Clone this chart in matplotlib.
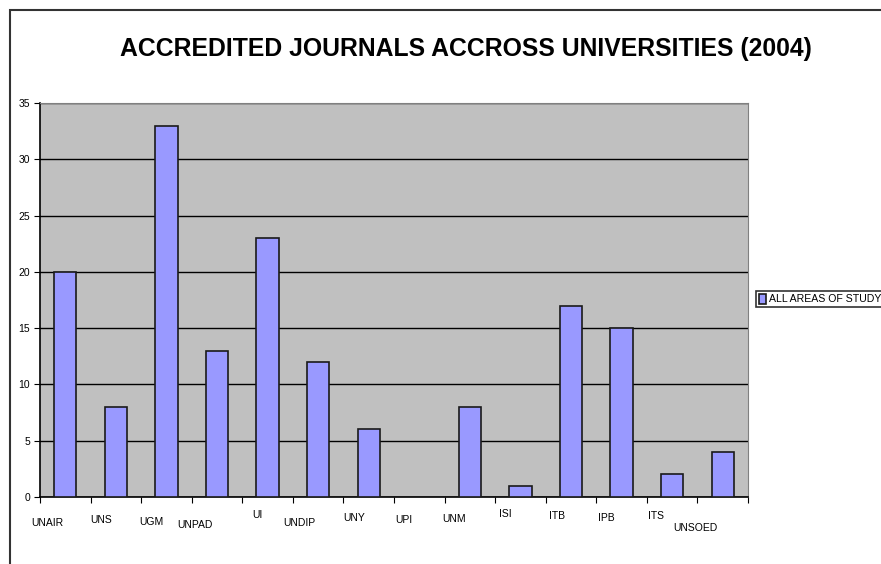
import matplotlib.pyplot as plt
from matplotlib import font_manager
from matplotlib.patches import Rectangle

universities = ['UNAIR', 'UNS', 'UGM', 'UNPAD', 'UI', 'UNDIP', 'UNY',
                'UPI', 'UNM', 'ISI', 'ITB', 'IPB', 'ITS', 'UNSOED']
journals = [20, 8, 33, 13, 23, 12, 6, 0, 8, 1, 17, 15, 2, 4]
series_name = 'ALL AREAS OF STUDY'
title = 'ACCREDITED JOURNALS ACCROSS UNIVERSITIES (2004)'

# excel-style staggered label placement (x shift in categories, y drop in px)
label_dx = [-0.36, -0.3, -0.29, -0.44, -0.2, -0.37, -0.29,
            -0.3, -0.31, -0.29, -0.28, -0.3, -0.31, -0.54]
label_dy = [26, 23, 25, 28, 18, 26, 21, 23, 22, 17, 19, 21, 19, 31]

names = {f.name for f in font_manager.fontManager.ttflist}
fam = 'Liberation Sans Narrow' if 'Liberation Sans Narrow' in names else 'Liberation Sans'
plt.rcParams['font.family'] = [fam, 'DejaVu Sans']

W, H = 881, 564
fig = plt.figure(figsize=(W / 100, H / 100), dpi=100)
fig.patch.set_facecolor('white')

# outer chart frame
fig.patches.append(Rectangle((10 / W, -0.1), 1.2, (H - 10) / H + 0.1,
                             transform=fig.transFigure, fill=False,
                             edgecolor='#333333', linewidth=1.5))

ax = fig.add_axes([40 / W, (H - 497) / H, (748 - 40) / W, (497 - 103) / H])
ax.set_facecolor('#c0c0c0')
x = list(range(len(universities)))
ax.bar(x, journals, width=0.44, color='#9999ff', edgecolor='#1a1a1a',
       linewidth=1.2, zorder=3, label=series_name)
ax.set_xlim(-0.5, len(universities) - 0.5)
ax.set_ylim(0, 35)
ax.set_yticks(range(0, 36, 5))
ax.yaxis.grid(True, color='black', linewidth=1)
ax.set_axisbelow(True)
ax.tick_params(axis='y', direction='out', length=4, labelsize=7.5, pad=3)
ax.set_xticks([i - 0.5 for i in range(len(universities) + 1)])
ax.set_xticklabels([])
ax.tick_params(axis='x', direction='out', length=4)
for s in ['top', 'right']:
    ax.spines[s].set_color('#808080')
for s in ['left', 'bottom']:
    ax.spines[s].set_color('black')
    ax.spines[s].set_linewidth(1.2)

for i, name in enumerate(universities):
    ax.annotate(name, xy=(i + label_dx[i], 0), xycoords='data',
                xytext=(0, -label_dy[i] * 0.72), textcoords='offset points',
                ha='center', va='center', fontsize=7.5, color='black')

fig.text(466 / W, 1 - 49 / H, title, ha='center', va='center',
         fontsize=17.8, fontweight='bold', color='black')

leg = fig.legend(loc='center left', bbox_to_anchor=(756 / W, 1 - 299 / H),
                 frameon=True, fancybox=False, fontsize=7.6,
                 handlelength=0.6, handleheight=1.1, handletextpad=0.3,
                 borderpad=0.3, edgecolor='black', borderaxespad=0)
leg.get_frame().set_linewidth(1.2)

fig.savefig('out.png', dpi=100)
